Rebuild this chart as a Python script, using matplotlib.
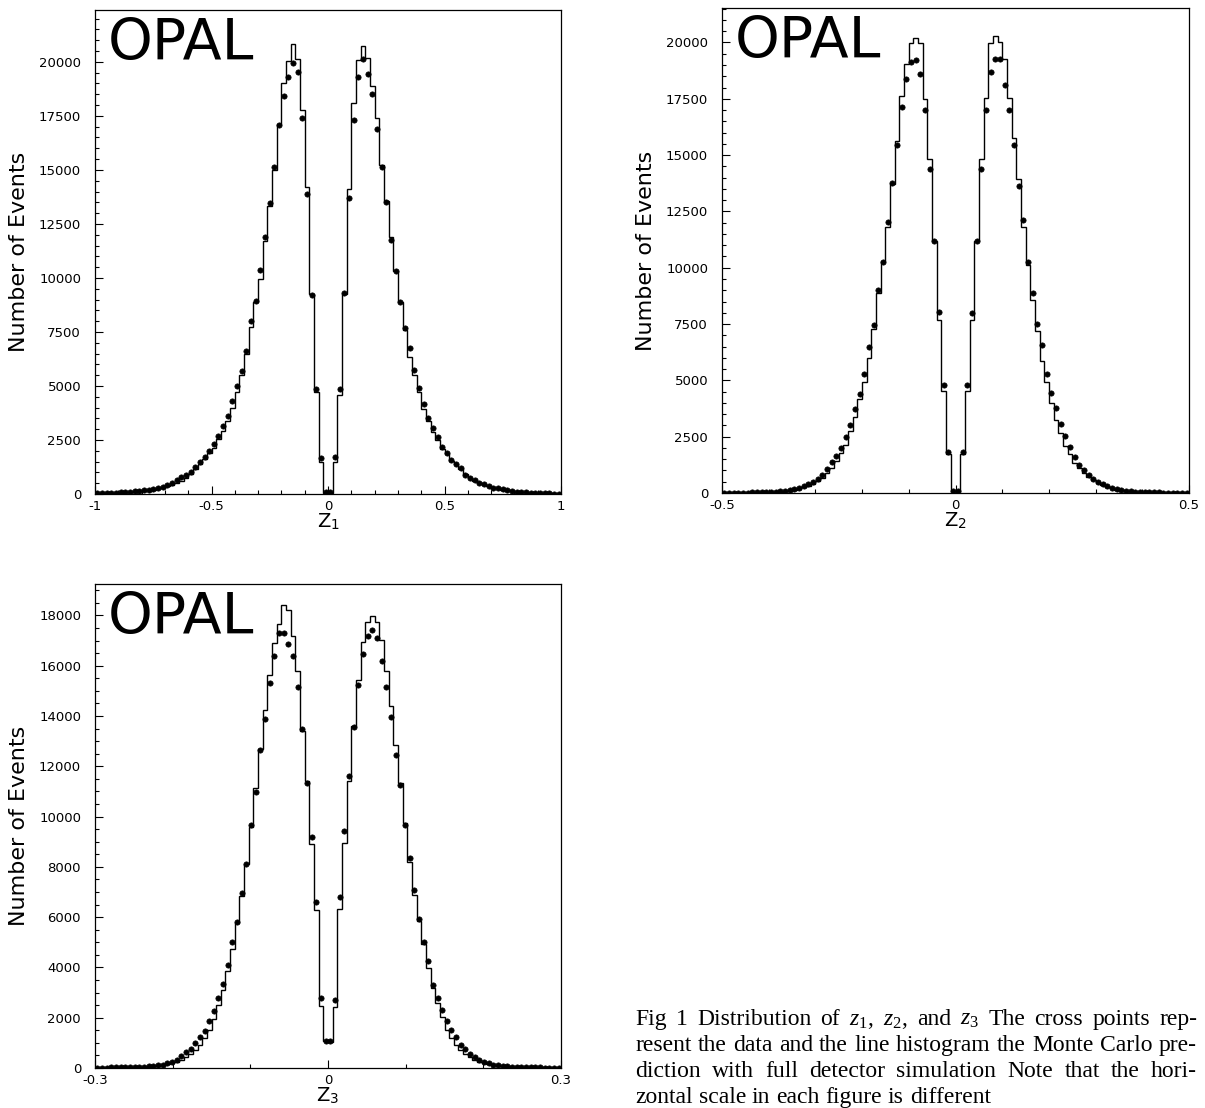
import numpy as np
import matplotlib
matplotlib.use('Agg')
import matplotlib.pyplot as plt
from matplotlib.ticker import FixedLocator, MultipleLocator, FixedFormatter

plt.rcParams['mathtext.fontset'] = 'custom'
plt.rcParams['mathtext.rm'] = 'Liberation Serif'
plt.rcParams['mathtext.it'] = 'Liberation Serif:italic'
plt.rcParams['mathtext.sf'] = 'DejaVu Sans'

# ---------------- data (100 bins per panel) ----------------
z1_range = [-1.0, 1.0]
z1_mc = [16, 32, 32, 48, 48, 64, 80, 95, 111, 127,
         143, 175, 207, 255, 300, 365, 430, 510, 620, 750,
         910, 1150, 1385, 1600, 1900, 2150, 2550, 2900, 3400, 3980,
         4730, 5520, 6480, 7750, 8870, 9950, 11730, 13320, 15000, 17110,
         19020, 20040, 20810, 20120, 17780, 14230, 9265, 4700, 1465, 60,
         60, 1465, 4570, 9265, 14120, 18100, 20090, 20730, 20170, 18900,
         17380, 15240, 13560, 11890, 10300, 8870, 7590, 6320, 5520, 4730,
         3930, 3375, 2850, 2500, 2100, 1860, 1540, 1385, 1150, 910,
         750, 620, 510, 430, 365, 300, 255, 207, 175, 143,
         111, 95, 80, 64, 48, 48, 32, 32, 16, 16]
z1_data = [32, 48, 48, 64, 64, 80, 95, 111, 127, 143,
           175, 207, 240, 285, 335, 415, 510, 670, 780, 890,
           1030, 1240, 1500, 1700, 2000, 2330, 2700, 3150, 3600, 4300,
           5010, 5680, 6640, 7990, 8950, 10380, 11890, 13480, 15150, 17070,
           18420, 19300, 19960, 19530, 17380, 13880, 9220, 4840, 1655, 80,
           80, 1700, 4840, 9300, 13720, 17300, 19300, 20140, 19450, 18500,
           16880, 15150, 13520, 11770, 10300, 8870, 7700, 6770, 5760, 4920,
           4170, 3530, 3060, 2660, 2180, 1890, 1580, 1385, 1190, 900,
           750, 650, 530, 440, 370, 300, 255, 210, 175, 143,
           111, 95, 80, 64, 48, 48, 32, 32, 16, 16]

z2_range = [-0.5, 0.5]
z2_mc = [15, 15, 15, 15, 15, 20, 20, 25, 25, 30,
         35, 45, 60, 80, 105, 140, 190, 245, 320, 410,
         520, 670, 870, 1130, 1400, 1790, 2150, 2750, 3390, 4180,
         4920, 5990, 7280, 8860, 10310, 11790, 13700, 15640, 17620, 19040,
         19960, 20190, 19960, 17500, 14840, 11180, 7670, 4540, 1710, 100,
         100, 1710, 4540, 7670, 11180, 14840, 17550, 19960, 20290, 20000,
         19270, 17550, 15760, 13930, 11790, 10110, 8580, 7210, 5860, 4920,
         4000, 3240, 2660, 2090, 1710, 1330, 1100, 870, 720, 565,
         440, 335, 260, 200, 150, 120, 90, 75, 60, 45,
         45, 30, 30, 25, 20, 20, 15, 15, 15, 15]
z2_data = [15, 15, 15, 15, 20, 20, 25, 30, 35, 40,
           50, 60, 80, 100, 135, 175, 230, 300, 390, 500,
           640, 800, 1050, 1380, 1650, 2000, 2500, 3000, 3750, 4400,
           5300, 6500, 7450, 9000, 10250, 12050, 13750, 15450, 17130, 18380,
           19120, 19240, 18590, 17000, 14380, 11180, 8050, 4800, 1830, 100,
           100, 1830, 4800, 7970, 11180, 14380, 17010, 18680, 19270, 19270,
           18100, 17000, 15450, 13650, 12100, 10260, 8890, 7500, 6550, 5300,
           4460, 3780, 3050, 2550, 2020, 1590, 1250, 1000, 800, 640,
           500, 390, 300, 230, 175, 135, 100, 80, 60, 50,
           40, 35, 30, 25, 20, 20, 15, 15, 15, 15]

z3_range = [-0.3, 0.3]
z3_mc = [10, 12, 15, 15, 18, 20, 25, 28, 30, 35,
         42, 55, 68, 85, 110, 145, 190, 250, 330, 430,
         540, 700, 900, 1180, 1520, 1950, 2500, 3100, 3850, 4750,
         5750, 6850, 8100, 9600, 11150, 12700, 14250, 15650, 16900, 17650,
         18420, 18200, 17200, 15800, 13400, 11400, 8900, 6300, 2450, 1080,
         1040, 2430, 6330, 8940, 11400, 13620, 15430, 16960, 17750, 17960,
         17750, 17030, 15780, 14390, 12860, 11330, 9730, 8200, 6880, 5840,
         4930, 3960, 3200, 2570, 2020, 1530, 1180, 900, 700, 560,
         420, 320, 250, 195, 150, 125, 97, 83, 70, 55,
         42, 42, 30, 30, 25, 20, 20, 15, 15, 15]
z3_data = [15, 15, 15, 20, 20, 25, 25, 30, 35, 40,
           50, 60, 80, 100, 130, 180, 250, 330, 490, 630,
           770, 980, 1220, 1470, 1880, 2250, 2800, 3350, 4100, 5000,
           5800, 6950, 8130, 9660, 10980, 12650, 13900, 15300, 16400, 17300,
           17300, 16850, 16400, 15150, 13500, 11350, 9200, 6620, 2800, 1070,
           1070, 2710, 6810, 9410, 11610, 13580, 15220, 16470, 17170, 17440,
           17100, 16190, 15150, 13970, 12440, 11260, 9660, 8340, 7090, 5910,
           5000, 4240, 3290, 2780, 2290, 1850, 1530, 1250, 900, 765,
           560, 420, 320, 240, 180, 135, 100, 80, 60, 50,
           40, 35, 30, 25, 20, 20, 15, 15, 15, 15]

z1_xticks = [-1, -0.5, 0, 0.5, 1]
z1_xticklabels = ['-1', '-0.5', '0', '0.5', '1']
z2_xticks = [-0.5, 0, 0.5]
z2_xticklabels = ['-0.5', '0', '0.5']
z3_xticks = [-0.3, 0, 0.3]
z3_xticklabels = ['-0.3', '0', '0.3']

y_label = 'Number of Events'
logo = 'OPAL'
x_labels = [r'$\mathsf{Z}_{\mathsf{1}}$', r'$\mathsf{Z}_{\mathsf{2}}$', r'$\mathsf{Z}_{\mathsf{3}}$']

caption_lines = [
    r'Fig 1  Distribution of $z_1$, $z_2$, and $z_3$  The cross points rep-',
    'resent the data and the line histogram the Monte Carlo pre-',
    'diction with full detector simulation  Note that the hori-',
    'zontal scale in each figure is different',
]

# ---------------- figure ----------------
W, H = 1205, 1108
fig = plt.figure(figsize=(W / 100, H / 100), dpi=100)


def px_axes(l, t, r, b):
    return fig.add_axes([l / W, 1 - b / H, (r - l) / W, (b - t) / H])


panels = [
    dict(box=(95, 10, 561, 494), rng=z1_range, mc=z1_mc, data=z1_data,
         ymax=22400, ystep=2500, xt=z1_xticks, xtl=z1_xticklabels, xl=x_labels[0]),
    dict(box=(722, 8, 1189, 493), rng=z2_range, mc=z2_mc, data=z2_data,
         ymax=21530, ystep=2500, xt=z2_xticks, xtl=z2_xticklabels, xl=x_labels[1]),
    dict(box=(95, 584, 561, 1068), rng=z3_range, mc=z3_mc, data=z3_data,
         ymax=19250, ystep=2000, xt=z3_xticks, xtl=z3_xticklabels, xl=x_labels[2]),
]

for p in panels:
    l, t, r, b = p['box']
    ax = px_axes(l, t, r, b)
    mc = np.asarray(p['mc'], dtype=float)
    data = np.asarray(p['data'], dtype=float)
    edges = np.linspace(p['rng'][0], p['rng'][1], len(mc) + 1)
    centers = 0.5 * (edges[:-1] + edges[1:])
    ax.stairs(mc, edges, color='black', lw=1.0, baseline=None)
    ax.plot(centers, data, 'o', ms=3.8, color='black', mec='black', mew=0.5)

    ax.set_xlim(p['rng'][0], p['rng'][1])
    ax.set_ylim(0, p['ymax'])
    ax.yaxis.set_major_locator(MultipleLocator(p['ystep']))
    ax.yaxis.set_minor_locator(MultipleLocator(500))
    ax.ticklabel_format(axis='y', style='plain', useOffset=False)
    ax.xaxis.set_major_locator(FixedLocator(p['xt']))
    ax.xaxis.set_major_formatter(FixedFormatter(p['xtl']))
    ax.xaxis.set_minor_locator(MultipleLocator(0.1))
    ax.tick_params(which='both', direction='in', top=False, right=False,
                   labelsize=9.5, width=0.8)
    ax.tick_params(axis='y', which='major', pad=10)
    ax.tick_params(axis='x', which='major', pad=4)
    ax.tick_params(which='major', length=6)
    ax.tick_params(which='minor', length=3)
    for lab in ax.get_xticklabels() + ax.get_yticklabels():
        lab.set_family('DejaVu Sans')
    for s in ax.spines.values():
        s.set_linewidth(0.9)

    ax.set_ylabel(y_label, fontsize=16, family='DejaVu Sans')
    ax.yaxis.set_label_coords(-0.142, 0.5)
    ax.text(0.5, -0.035, p['xl'], transform=ax.transAxes, ha='center', va='top',
            fontsize=14)
    ax.text(0.028, 0.897, logo, transform=ax.transAxes, ha='left', va='baseline',
            fontsize=41, family='DejaVu Sans')

# ---------------- caption (justified) ----------------
renderer = fig.canvas.get_renderer()
cap_fs = 17
cap_left, cap_right = 635, 1197
cap_baselines = [1025, 1051, 1077, 1103]
for k, line in enumerate(caption_lines):
    words = line.split()
    texts = []
    widths = []
    for w in words:
        t = fig.text(0, 0, w, fontsize=cap_fs, family='Liberation Serif', va='baseline')
        widths.append(t.get_window_extent(renderer).width)
        texts.append(t)
    if k < len(caption_lines) - 1:
        gap = (cap_right - cap_left - sum(widths)) / (len(words) - 1)
    else:
        gap = cap_fs * 100 / 72 * 0.25
    x = cap_left
    yb = 1 - cap_baselines[k] / H
    for t, wd in zip(texts, widths):
        t.set_position((x / W, yb))
        x += wd + gap

fig.savefig('out.png', dpi=100)
